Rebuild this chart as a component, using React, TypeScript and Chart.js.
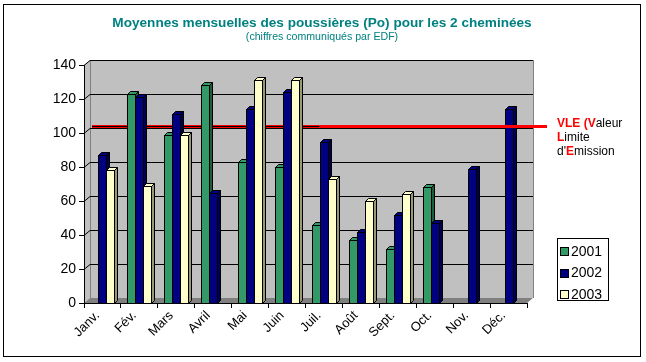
import React, { useEffect, useRef } from 'react';
import { Chart, registerables } from 'chart.js';

Chart.register(...registerables);

const months = ['Janv.', 'Fév.', 'Mars', 'Avril', 'Mai', 'Juin', 'Juil.', 'Août', 'Sept.', 'Oct.', 'Nov.', 'Déc.'];
const series2001 = [null, 123, 99, 128, 83, 80, 46, 37, 32, 68, null, null];
const series2002 = [87, 121, 111, 65, 114, 124, 95, 42, 52, 47, 79, 114];
const series2003 = [78, 69, 99, null, 131, 131, 73, 60, 64, null, null, null];
const seriesLabels = ['2001', '2002', '2003'];
const yMin = 0;
const yMax = 140;
const yStep = 20;
const vleValue = 104;
const titleText = 'Moyennes mensuelles des poussières (Po) pour les 2 cheminées';
const subtitleText = '(chiffres communiqués par EDF)';

const frontColors = ['#339966', '#000080', '#ffffcc'];
const topColors = ['#339966', '#000080', '#ffffcc'];
const sideColors = ['#1f5c3d', '#00004d', '#999977'];

const FONT = "'Liberation Sans', Arial, sans-serif";
const DX = 6;
const DY = -5;
const BX = 3;
const BY = -3;

const threeD = {
  id: 'threeD',
  beforeDraw(chart: any) {
    const ctx = chart.ctx;
    const { left: L, right: R, top: T, bottom: B } = chart.chartArea;
    const ys = chart.scales.y;
    ctx.save();
    ctx.fillStyle = '#ffffff';
    ctx.fillRect(0, 0, chart.width, chart.height);
    ctx.strokeStyle = '#000';
    ctx.lineWidth = 1;
    ctx.strokeRect(3.5, 4.5, 637, 352);
    ctx.fillStyle = '#c0c0c0';
    ctx.fillRect(L + DX, T + DY, R - L, B - T);
    ctx.beginPath();
    ctx.moveTo(L, T);
    ctx.lineTo(L + DX, T + DY);
    ctx.lineTo(L + DX, B + DY);
    ctx.lineTo(L, B);
    ctx.closePath();
    ctx.fill();
    ctx.fillStyle = '#808080';
    ctx.beginPath();
    ctx.moveTo(L, B);
    ctx.lineTo(R, B);
    ctx.lineTo(R + DX, B + DY);
    ctx.lineTo(L + DX, B + DY);
    ctx.closePath();
    ctx.fill();
    ctx.strokeStyle = '#808080';
    ctx.beginPath();
    ctx.moveTo(L + DX + 0.5, T + DY);
    ctx.lineTo(L + DX + 0.5, B + DY);
    ctx.moveTo(R + DX + 0.5, T + DY);
    ctx.lineTo(R + DX + 0.5, B + DY);
    ctx.stroke();
    ctx.strokeStyle = '#ffffff';
    ctx.beginPath();
    ctx.moveTo(R + 0.5, B + 0.5);
    ctx.lineTo(R + DX + 0.5, B + DY + 0.5);
    ctx.stroke();
    ctx.strokeStyle = '#000';
    for (let v = yMin + yStep; v <= yMax; v += yStep) {
      const y = Math.round(ys.getPixelForValue(v)) + 0.5;
      ctx.beginPath();
      ctx.moveTo(L, y);
      ctx.lineTo(L + DX, y + DY);
      ctx.lineTo(R + DX, y + DY);
      ctx.stroke();
    }
    ctx.restore();
  },
  beforeDatasetsDraw(chart: any) {
    const ctx = chart.ctx;
    const { left: L, right: R } = chart.chartArea;
    const ys = chart.scales.y;
    const vy = Math.round(ys.getPixelForValue(vleValue)) + 0.5;
    const x0 = L + DX + 2;
    const x1 = L + (R - L) * 0.532;
    ctx.save();
    ctx.strokeStyle = '#ff0000';
    ctx.lineWidth = 3;
    ctx.beginPath();
    ctx.moveTo(x0, vy);
    ctx.lineTo(x1, vy);
    ctx.stroke();
    ctx.strokeStyle = '#000';
    ctx.lineWidth = 1;
    ctx.beginPath();
    ctx.moveTo(x0, vy);
    ctx.lineTo(x1, vy);
    ctx.stroke();

    const items: any[] = [];
    chart.getSortedVisibleDatasetMetas().forEach((meta: any) => {
      const ds = chart.data.datasets[meta.index];
      meta.data.forEach((el: any, i: number) => {
        const v = ds.data[i];
        if (v === null || v === undefined) return;
        const p = el.getProps(['x', 'y', 'base', 'width'], true);
        items.push({ ...p, di: meta.index });
      });
    });
    items.sort((a, b) => a.x - b.x);
    ctx.lineWidth = 1;
    ctx.strokeStyle = '#000';
    for (const p of items) {
      const l = Math.round(p.x - p.width / 2);
      const r = Math.round(p.x + p.width / 2);
      const t = Math.round(p.y);
      const b = Math.round(p.base);
      ctx.fillStyle = sideColors[p.di];
      ctx.beginPath();
      ctx.moveTo(r + 0.5, t + 0.5);
      ctx.lineTo(r + BX + 0.5, t + BY + 0.5);
      ctx.lineTo(r + BX + 0.5, b + BY + 0.5);
      ctx.lineTo(r + 0.5, b + 0.5);
      ctx.closePath();
      ctx.fill();
      ctx.stroke();
      ctx.fillStyle = topColors[p.di];
      ctx.beginPath();
      ctx.moveTo(l + 0.5, t + 0.5);
      ctx.lineTo(l + BX + 0.5, t + BY + 0.5);
      ctx.lineTo(r + BX + 0.5, t + BY + 0.5);
      ctx.lineTo(r + 0.5, t + 0.5);
      ctx.closePath();
      ctx.fill();
      ctx.stroke();
      ctx.fillStyle = frontColors[p.di];
      ctx.fillRect(l, t, r - l, b - t);
      ctx.strokeRect(l + 0.5, t + 0.5, r - l, b - t);
    }
    ctx.restore();
    return false;
  },
  afterDraw(chart: any) {
    const ctx = chart.ctx;
    const { left: L, right: R } = chart.chartArea;
    const ys = chart.scales.y;
    const vy = Math.round(ys.getPixelForValue(vleValue)) + 0.5;
    ctx.save();
    ctx.strokeStyle = '#ff0000';
    ctx.lineWidth = 3;
    ctx.beginPath();
    ctx.moveTo(L + (R - L) * 0.532, vy);
    ctx.lineTo(R + 20, vy);
    ctx.stroke();

    ctx.fillStyle = '#008080';
    ctx.textAlign = 'center';
    ctx.textBaseline = 'alphabetic';
    ctx.font = `bold 13.6px ${FONT}`;
    ctx.fillText(titleText, 322, 27);
    ctx.font = `10.6px ${FONT}`;
    ctx.fillText(subtitleText, 322, 40);

    const lines = [
      [{ t: 'VLE (V', b: true }, { t: 'aleur', b: false }],
      [{ t: 'L', b: true }, { t: 'imite', b: false }],
      [{ t: "d'", b: false }, { t: 'E', b: true }, { t: 'mission', b: false }],
    ];
    ctx.textAlign = 'left';
    const baseX = R + 30;
    lines.forEach((segs, li) => {
      let x = baseX;
      const y = 127 + li * 14;
      segs.forEach((s) => {
        ctx.font = `${s.b ? 'bold ' : ''}12px ${FONT}`;
        ctx.fillStyle = s.b ? '#ff0000' : '#000000';
        ctx.fillText(s.t, x, y);
        x += ctx.measureText(s.t).width;
      });
    });

    const lx = R + 30;
    const ly = 238;
    ctx.fillStyle = '#ffffff';
    ctx.fillRect(lx, ly, 51, 62);
    ctx.strokeStyle = '#000';
    ctx.lineWidth = 1;
    ctx.strokeRect(lx + 0.5, ly + 0.5, 51, 62);
    ctx.font = `14px ${FONT}`;
    ctx.textBaseline = 'middle';
    chart.data.datasets.forEach((ds: any, i: number) => {
      const cy = ly + 13 + i * 21.5;
      ctx.fillStyle = frontColors[i];
      ctx.fillRect(lx + 3, Math.round(cy - 4), 8, 8);
      ctx.strokeRect(lx + 3.5, Math.round(cy - 4) + 0.5, 8, 8);
      ctx.fillStyle = '#000';
      ctx.fillText(ds.label, lx + 14, cy + 1);
    });
    ctx.restore();
  },
};

export default function App() {
  const ref = useRef<HTMLCanvasElement>(null);
  useEffect(() => {
    if (!ref.current) return;
    const chart = new Chart(ref.current, {
      type: 'bar',
      data: {
        labels: months,
        datasets: [series2001, series2002, series2003].map((d, i) => ({
          label: seriesLabels[i],
          data: d,
          backgroundColor: frontColors[i],
          borderColor: '#000',
          borderWidth: 1,
          categoryPercentage: 0.65,
          barPercentage: 1,
        })),
      },
      options: {
        responsive: false,
        animation: false,
        events: [],
        layout: { padding: { top: 65, right: 119, left: 0, bottom: 0 } },
        plugins: { legend: { display: false }, tooltip: { enabled: false }, title: { display: false } },
        scales: {
          x: {
            grid: { drawOnChartArea: false, color: '#000', tickLength: 5, offset: true },
            border: { color: '#000' },
            ticks: {
              color: '#000',
              font: { family: FONT, size: 13 },
              minRotation: 45,
              maxRotation: 45,
              autoSkip: false,
              padding: 0,
              labelOffset: -5,
            },
            afterFit: (s: any) => { s.height = 59; },
          },
          y: {
            min: yMin,
            max: yMax,
            grid: { drawOnChartArea: false, color: '#000', tickLength: 5 },
            border: { color: '#000' },
            ticks: { stepSize: yStep, color: '#000', font: { family: FONT, size: 14 }, padding: 3 },
            afterFit: (s: any) => { s.width = 84; },
          },
        },
      },
      plugins: [threeD],
    });
    return () => chart.destroy();
  }, []);
  return (
    <div style={{ position: 'absolute', left: 0, top: 0, width: 646, height: 362 }}>
      <canvas ref={ref} width={646} height={362} style={{ display: 'block' }} />
    </div>
  );
}
